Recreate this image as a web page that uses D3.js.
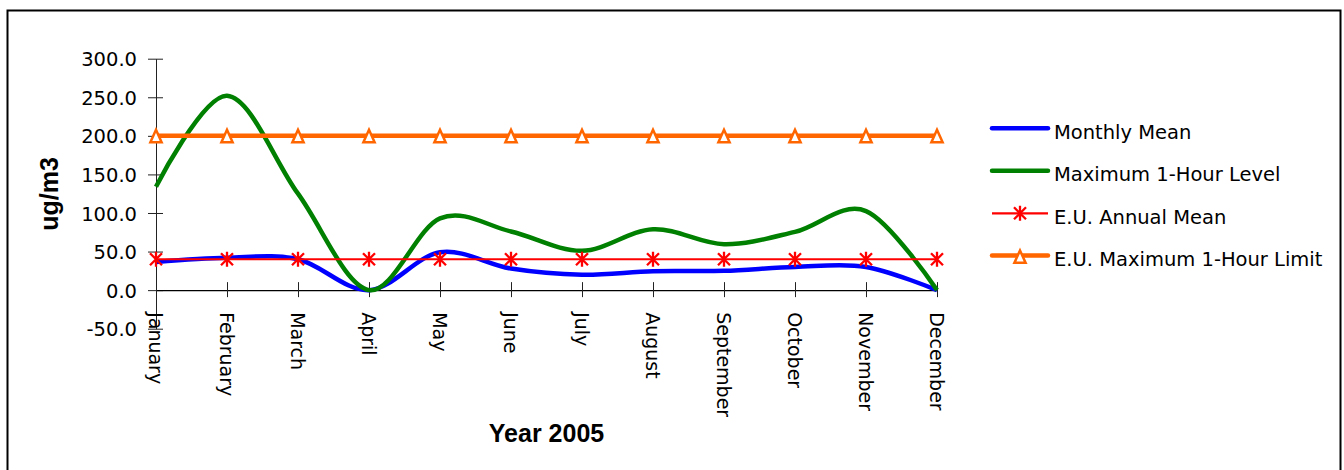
<!DOCTYPE html>
<html>
<head>
<meta charset="utf-8">
<script src="https://cdn.jsdelivr.net/npm/d3@7"></script>
<style>
  html, body { margin: 0; padding: 0; background: #fff; }
  svg { display: block; }
</style>
</head>
<body>
<svg id="chart" width="1344" height="470"></svg>
<script>
const months = ["January","February","March","April","May","June","July","August","September","October","November","December"];
const monthlyMean   = [36.5, 42, 40, 0, 49, 28, 20, 24.5, 25, 30, 30, 0];
const maxHourLevel  = [134, 252, 125, 0, 93, 76, 51, 79, 59.5, 75.5, 102.5, 0];
const euAnnualMean  = [40, 40, 40, 40, 40, 40, 40, 40, 40, 40, 40, 40];
const euMaxHourLim  = [200, 200, 200, 200, 200, 200, 200, 200, 200, 200, 200, 200];
const yTicks = [-50, 0, 50, 100, 150, 200, 250, 300];
const seriesNames = ["Monthly Mean", "Maximum 1-Hour Level", "E.U. Annual Mean", "E.U. Maximum 1-Hour Limit"];
const xTitle = "Year 2005";
const yTitle = "ug/m3";

const svg = d3.select("#chart");
const labelFont = "'DejaVu Sans', sans-serif";
const titleFont = "'Liberation Sans', Arial, sans-serif";

// outer border
svg.append("rect").attr("x", 7.5).attr("y", 10.5).attr("width", 1333).attr("height", 520)
  .attr("fill", "none").attr("stroke", "#000").attr("stroke-width", 2);

const x = d3.scalePoint().domain(months).range([156, 937]);
const y = d3.scaleLinear().domain([-50, 300]).range([328.7, 58.7]);

// Y axis
const yAxis = svg.append("g").attr("transform", "translate(156,0)")
  .call(d3.axisLeft(y).tickValues(yTicks).tickFormat(d => d.toFixed(1)).tickSizeOuter(0).tickSizeInner(7).tickPadding(12));
yAxis.select(".domain").attr("stroke", "#222").attr("stroke-width", 1);
yAxis.selectAll(".tick line").attr("x1", 7).attr("x2", -8).attr("stroke", "#222");
yAxis.selectAll(".tick text").attr("font-family", labelFont).attr("font-size", 19.5).attr("fill", "#000")
  .attr("x", -19).attr("dy", "0.36em");

// X axis at zero
const xAxis = svg.append("g").attr("transform", `translate(0,${y(0)})`)
  .call(d3.axisBottom(x).tickSizeOuter(0).tickSizeInner(7));
xAxis.select(".domain").attr("stroke", "#000").attr("stroke-width", 1.2);
xAxis.selectAll(".tick line").attr("y1", -8).attr("y2", 7).attr("stroke", "#222");
xAxis.selectAll(".tick text")
  .attr("font-family", labelFont).attr("font-size", 19).attr("fill", "#000")
  .attr("text-anchor", "start")
  .attr("x", 0).attr("y", 0).attr("dy", 8)
  .attr("transform", "translate(0,22) rotate(90)");

// series lines
const line = d3.line().x((d, i) => x(months[i])).y(d => y(d));
const smooth = d3.line().x((d, i) => x(months[i])).y(d => y(d)).curve(d3.curveCardinal.tension(0));

svg.append("path").datum(monthlyMean).attr("d", smooth).attr("fill", "none")
  .attr("stroke", "#0000FF").attr("stroke-width", 4.5).attr("stroke-linejoin", "round");
svg.append("path").datum(maxHourLevel).attr("d", smooth).attr("fill", "none")
  .attr("stroke", "#008000").attr("stroke-width", 4.5).attr("stroke-linejoin", "round");
svg.append("path").datum(euAnnualMean).attr("d", line).attr("fill", "none")
  .attr("stroke", "#FF0000").attr("stroke-width", 2.2);
svg.append("path").datum(euMaxHourLim).attr("d", line).attr("fill", "none")
  .attr("stroke", "#FF6600").attr("stroke-width", 4.5);

const asterisk = "M-6,-6L6,6M-6,6L6,-6M0,-7.5L0,7.5";
const triangle = "M0,-6L5.6,6.3L-5.6,6.3Z";

svg.append("g").selectAll("path").data(euAnnualMean).join("path")
  .attr("transform", (d, i) => `translate(${x(months[i])},${y(d)})`)
  .attr("d", asterisk).attr("fill", "none").attr("stroke", "#FF0000").attr("stroke-width", 2.3);
svg.append("g").selectAll("path").data(euMaxHourLim).join("path")
  .attr("transform", (d, i) => `translate(${x(months[i])},${y(d)})`)
  .attr("d", triangle).attr("fill", "#fff").attr("stroke", "#FF6600").attr("stroke-width", 2.5);

// axis titles
svg.append("text").attr("x", 546.5).attr("y", 441.5).attr("text-anchor", "middle")
  .attr("font-family", titleFont).attr("font-weight", "bold").attr("font-size", 25).attr("fill", "#000")
  .text(xTitle);
svg.append("text").attr("transform", "translate(58,194) rotate(-90)").attr("text-anchor", "middle")
  .attr("font-family", titleFont).attr("font-weight", "bold").attr("font-size", 25).attr("fill", "#000")
  .text(yTitle);

// legend
const legendY = [128.3, 170.7, 213.3, 255.5];
const legColors = ["#0000FF", "#008000", "#FF0000", "#FF6600"];
const legWidths = [4.5, 4.5, 2.2, 4.5];
const leg = svg.append("g");
seriesNames.forEach((name, i) => {
  const g = leg.append("g").attr("transform", `translate(0,${legendY[i]})`);
  g.append("line").attr("x1", 992).attr("x2", 1048).attr("y1", 0).attr("y2", 0)
    .attr("stroke", legColors[i]).attr("stroke-width", legWidths[i]).attr("stroke-linecap", i === 2 ? "butt" : "round");
  if (i === 2) g.append("path").attr("transform", "translate(1020,0)").attr("d", asterisk)
    .attr("fill", "none").attr("stroke", "#FF0000").attr("stroke-width", 2.3);
  if (i === 3) g.append("path").attr("transform", "translate(1020,1)").attr("d", triangle)
    .attr("fill", "#fff").attr("stroke", "#FF6600").attr("stroke-width", 2.5);
  g.append("text").attr("x", 1054).attr("y", 10.7)
    .attr("font-family", labelFont).attr("font-size", 19.5).attr("fill", "#000").text(name);
});
</script>
</body>
</html>
